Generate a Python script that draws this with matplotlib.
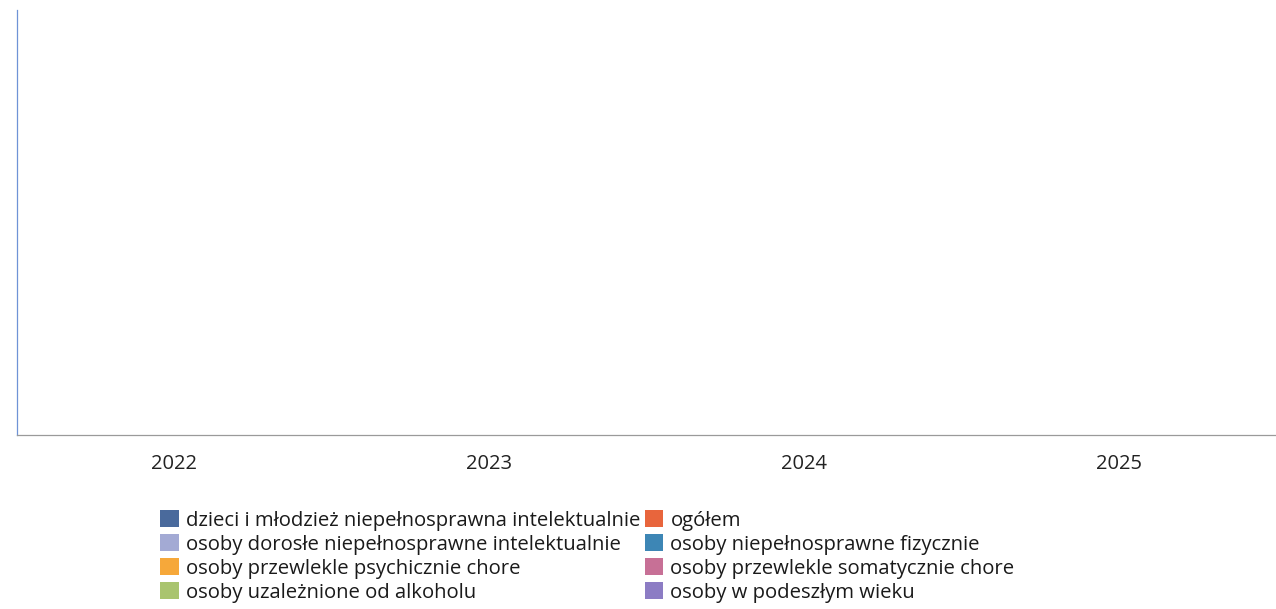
import matplotlib

matplotlib.use("Agg")
import matplotlib.pyplot as plt
import numpy as np
from matplotlib.patches import Patch

plt.rcParams["font.family"] = ["Open Sans", "DejaVu Sans"]

years = ["2022", "2023", "2024", "2025"]
series = [
    "dzieci i młodzież niepełnosprawna intelektualnie",
    "osoby dorosłe niepełnosprawne intelektualnie",
    "osoby przewlekle psychicznie chore",
    "osoby uzależnione od alkoholu",
    "ogółem",
    "osoby niepełnosprawne fizycznie",
    "osoby przewlekle somatycznie chore",
    "osoby w podeszłym wieku",
]
colors = [
    "#4a6a9c", "#a3aad4", "#f6a83a", "#a9c46e",
    "#e8653c", "#3d86b5", "#c77096", "#8c7cc4",
]
# the chart has no bars: every series is empty
values = {name: [0, 0, 0, 0] for name in series}

fig = plt.figure(figsize=(12.76, 6.09), dpi=100)
ax = fig.add_axes([17 / 1276, 1 - 435 / 609, 1 - 17 / 1276, 425 / 609])

x = np.arange(len(years))
width = 0.8 / len(series)
for i, (name, color) in enumerate(zip(series, colors)):
    ax.bar(x - 0.4 + width * (i + 0.5), values[name], width, color=color)

ax.set_xlim(-0.5, len(years) - 0.5)
ax.set_ylim(0, 1)
ax.set_xticks(x, years)
ax.set_yticks([])
ax.tick_params(axis="x", length=0, pad=14, labelsize=14.5, labelcolor="#222222")
for side in ("top", "right"):
    ax.spines[side].set_visible(False)
ax.spines["left"].set_color("#6f93d6")
ax.spines["left"].set_linewidth(0.9)
ax.spines["bottom"].set_color("#9a9a9a")
ax.spines["bottom"].set_linewidth(0.9)
ax.spines["bottom"].set_linestyle((0, (3, 1)))

handles = [Patch(facecolor=c, edgecolor="none") for c in colors]
fig.legend(
    handles,
    series,
    loc="upper left",
    bbox_to_anchor=(142 / 1276, 1 - 492 / 609),
    ncol=2,
    frameon=False,
    fontsize=14.6,
    handlelength=0.9,
    handleheight=0.9,
    handletextpad=0.35,
    labelspacing=0.18,
    columnspacing=0.25,
    labelcolor="#1a1a1a",
)

fig.savefig("out.png", dpi=100)
plt.close(fig)
